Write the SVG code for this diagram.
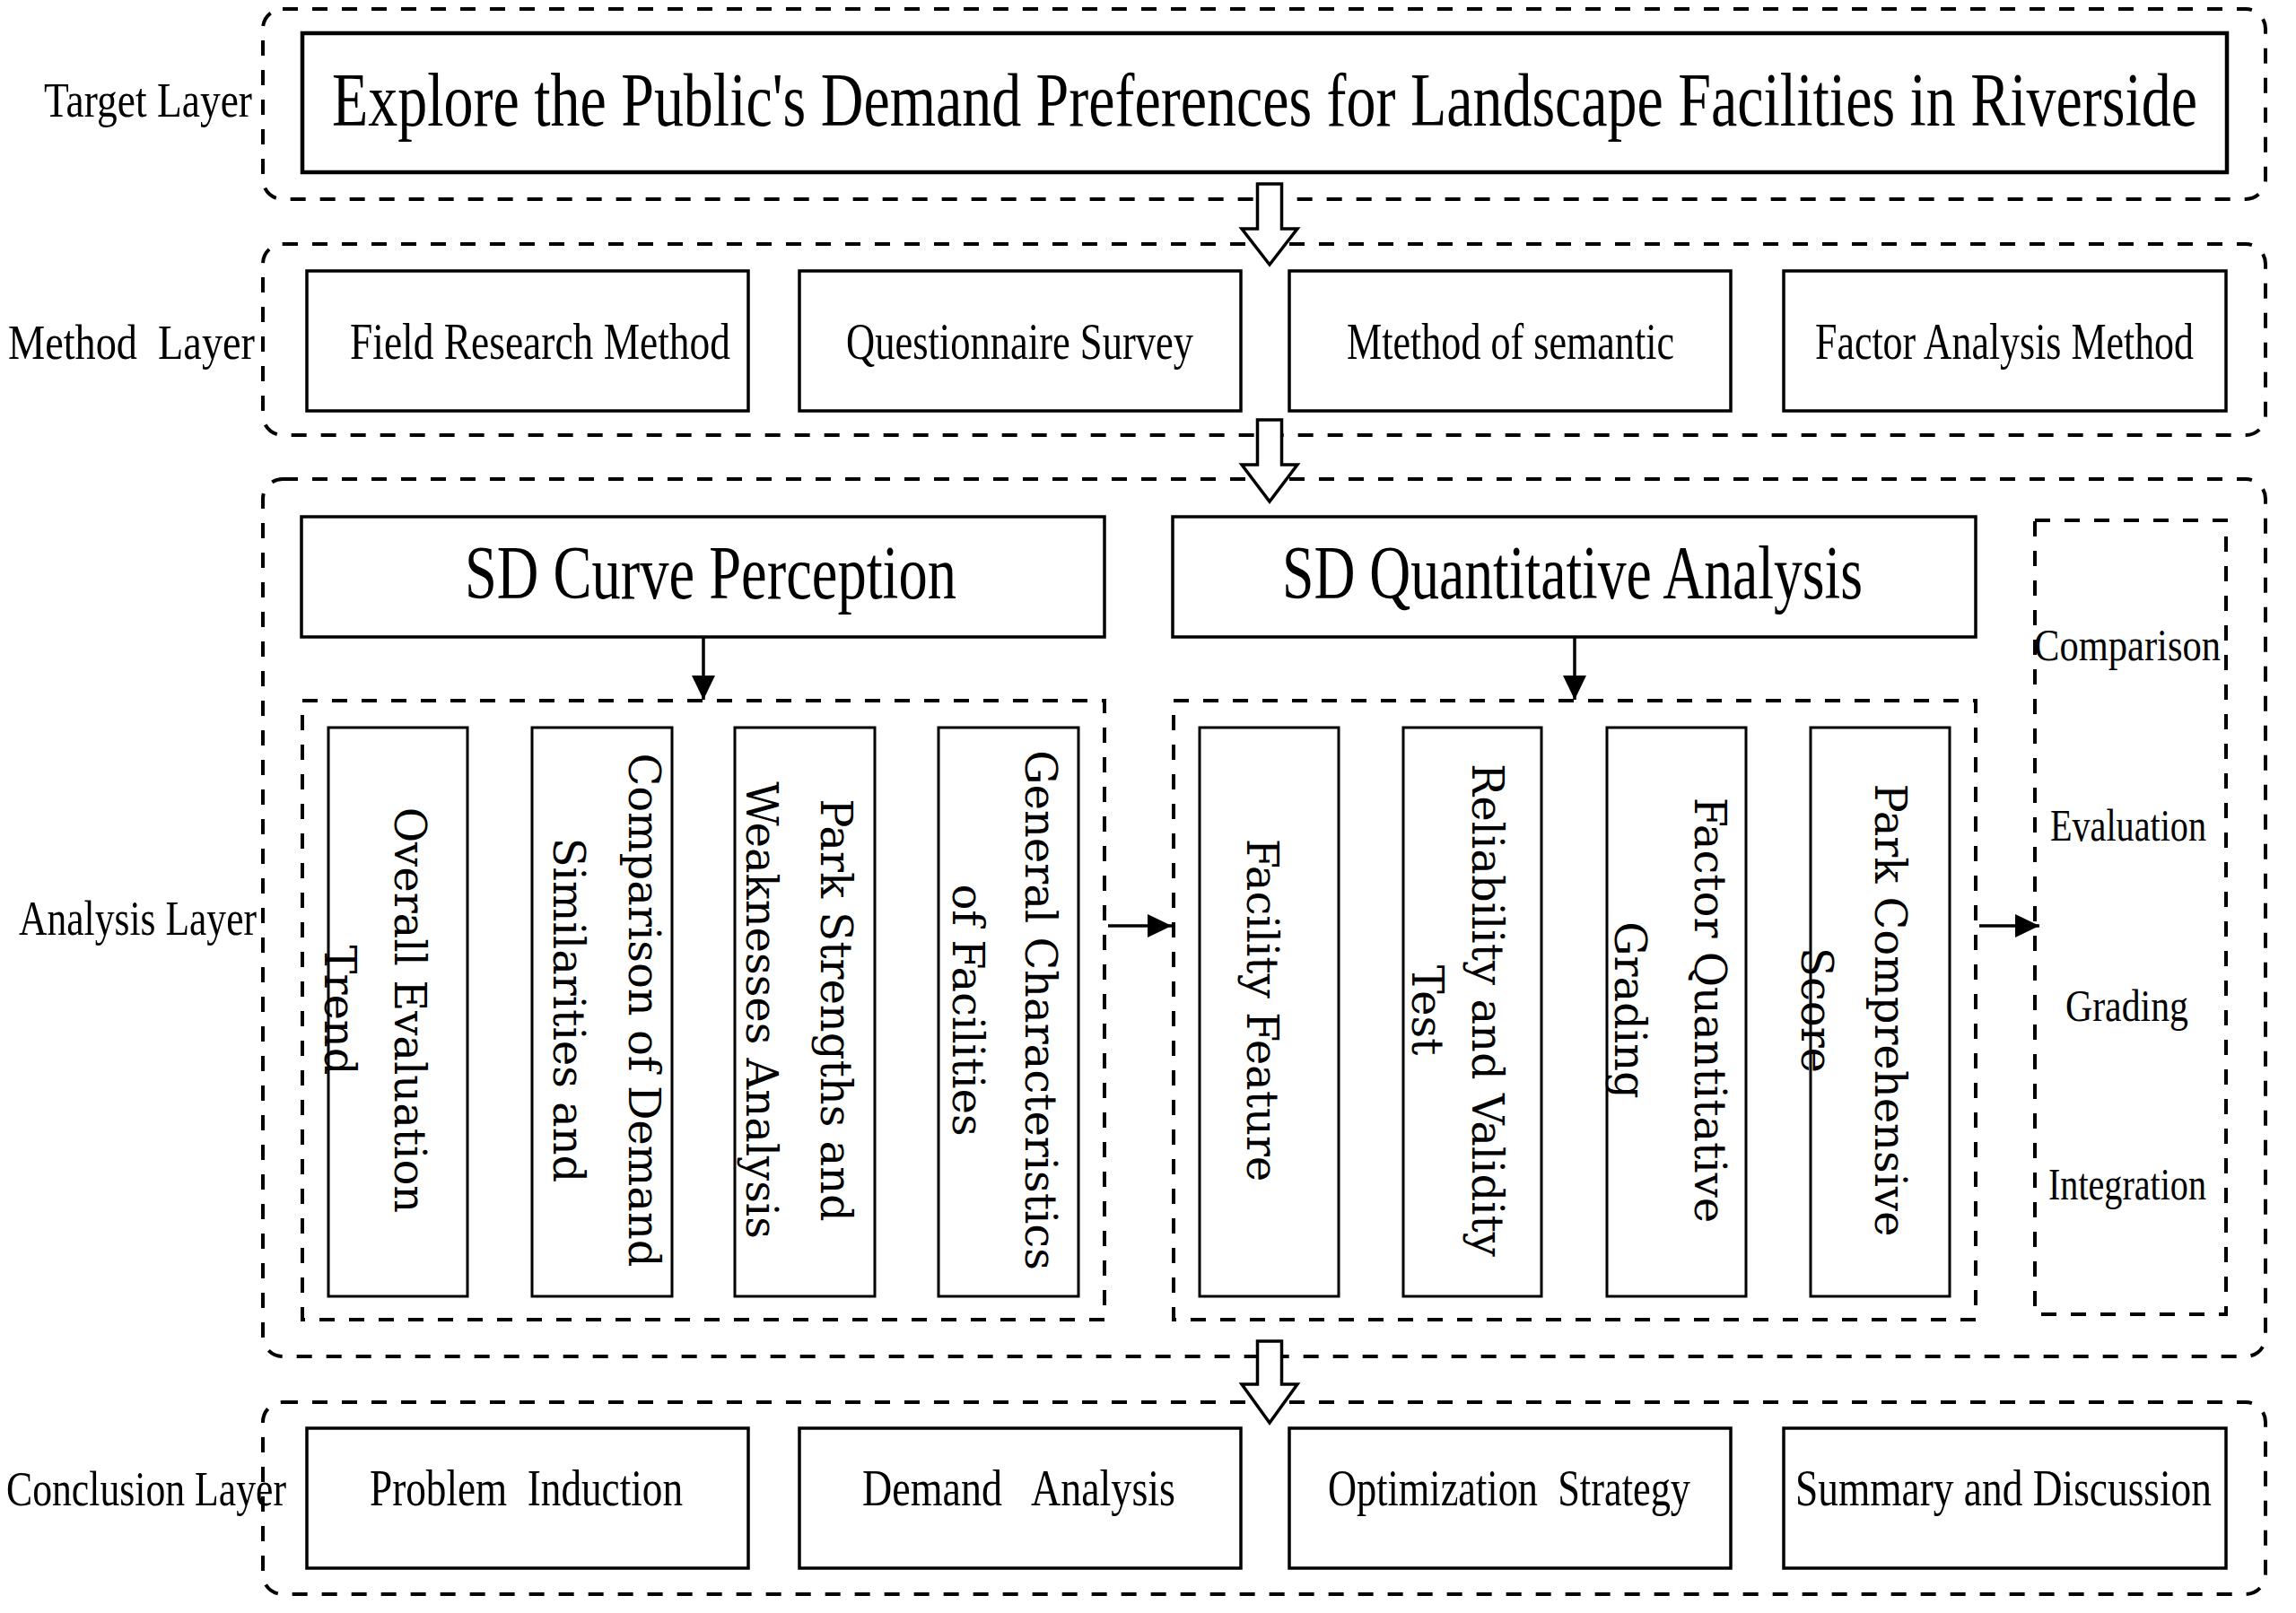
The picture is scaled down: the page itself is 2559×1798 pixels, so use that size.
<svg xmlns="http://www.w3.org/2000/svg" width="2559" height="1798" viewBox="0 0 2559 1798">
<defs>
<style>
.layer{fill:none;stroke:#000;stroke-width:4;stroke-dasharray:17 16}
.inner{fill:none;stroke:#000;stroke-width:4;stroke-dasharray:17 16}
.box{fill:#fff;stroke:#000;stroke-width:3.5}
.tbox{fill:#fff;stroke:#000;stroke-width:4.5}
.vbox{fill:#fff;stroke:#000;stroke-width:3}
.t{font-family:"Liberation Serif","Times New Roman",serif;fill:#000}
.v{font-family:"DejaVu Serif",serif;font-size:48px;fill:#000;text-anchor:middle}
.lbl{font-size:54px}
.m{font-size:56px}
.sd{font-size:84px}
.c{font-size:50px}
.conn{stroke:#000;stroke-width:3.5;fill:none}
.hollow{fill:#fff;stroke:#000;stroke-width:3.5;stroke-linejoin:miter}
</style>
<marker id="ah" markerUnits="userSpaceOnUse" markerWidth="27" markerHeight="26" refX="27" refY="13" orient="auto">
<path d="M0,0 L27,13 L0,26 z" fill="#000"/>
</marker>
</defs>
<rect width="2559" height="1798" fill="#fff"/>

<g id="layer-target">
<rect class="layer" x="293" y="10" width="2232" height="212" rx="22"/>
<text class="t lbl" x="49" y="130" textLength="232" lengthAdjust="spacingAndGlyphs">Target Layer</text>
</g>
<g id="layer-method">
<rect class="layer" x="293" y="272" width="2232" height="213" rx="22"/>
<text class="t lbl" x="9" y="400" textLength="275" lengthAdjust="spacingAndGlyphs" xml:space="preserve">Method  Layer</text>
</g>
<g id="layer-analysis">
<rect class="layer" x="293" y="534" width="2232" height="978" rx="22"/>
<text class="t lbl" x="21" y="1042" textLength="265" lengthAdjust="spacingAndGlyphs">Analysis Layer</text>
</g>
<g id="layer-conclusion">
<rect class="layer" x="293" y="1563" width="2232" height="214" rx="22"/>
<text class="t lbl" x="7" y="1678" textLength="312" lengthAdjust="spacingAndGlyphs">Conclusion Layer</text>
</g>

<g id="target">
<rect class="tbox" x="337" y="37" width="2145" height="155"/>
<text class="t" x="370" y="140" font-size="84" textLength="2079" lengthAdjust="spacingAndGlyphs">Explore the Public's Demand Preferences for Landscape Facilities in Riverside</text>
</g>

<g id="method-field">
<rect class="box" x="342" y="302" width="492" height="156"/>
<text class="t m" x="390" y="400" textLength="424" lengthAdjust="spacingAndGlyphs">Field Research Method</text>
</g>
<g id="method-questionnaire">
<rect class="box" x="891" y="302" width="492" height="156"/>
<text class="t m" x="943" y="400" textLength="387" lengthAdjust="spacingAndGlyphs">Questionnaire Survey</text>
</g>
<g id="method-semantic">
<rect class="box" x="1437" y="302" width="492" height="156"/>
<text class="t m" x="1501" y="400" textLength="365" lengthAdjust="spacingAndGlyphs">Mtethod of semantic</text>
</g>
<g id="method-factor">
<rect class="box" x="1988" y="302" width="493" height="156"/>
<text class="t m" x="2023" y="400" textLength="422" lengthAdjust="spacingAndGlyphs">Factor Analysis Method</text>
</g>

<g id="sd-curve">
<rect class="box" x="336" y="576" width="895" height="134"/>
<text class="t sd" x="518" y="667" textLength="548" lengthAdjust="spacingAndGlyphs">SD Curve Perception</text>
</g>
<g id="sd-quant">
<rect class="box" x="1307" y="576" width="895" height="134"/>
<text class="t sd" x="1429" y="667" textLength="647" lengthAdjust="spacingAndGlyphs">SD Quantitative Analysis</text>
</g>

<g id="group-curve">
<rect class="inner" x="337" y="781" width="894" height="690"/>
</g>
<g id="group-quant">
<rect class="inner" x="1308" y="781" width="894" height="690"/>
</g>

<g id="overall">
<rect class="vbox" x="366" y="811" width="155" height="634"/>
<text class="v" transform="translate(440,1126) rotate(90)">Overall Evaluation</text>
<text class="v" transform="translate(362,1126) rotate(90)">Trend</text>
</g>
<g id="comparison-demand">
<rect class="vbox" x="593" y="811" width="156" height="634"/>
<text class="v" transform="translate(701,1126) rotate(90)">Comparison of Demand</text>
<text class="v" transform="translate(617,1126) rotate(90)">Similarities and</text>
</g>
<g id="park-strengths">
<rect class="vbox" x="819" y="811" width="156" height="634"/>
<text class="v" transform="translate(915,1126) rotate(90)">Park Strengths and</text>
<text class="v" transform="translate(832,1126) rotate(90)">Weaknesses Analysis</text>
</g>
<g id="general-characteristics">
<rect class="vbox" x="1046" y="811" width="156" height="634"/>
<text class="v" transform="translate(1143,1126) rotate(90)">General Characteristics</text>
<text class="v" transform="translate(1062,1126) rotate(90)">of Facilities</text>
</g>
<g id="facility-feature">
<rect class="vbox" x="1337" y="811" width="155" height="634"/>
<text class="v" transform="translate(1390,1126) rotate(90)">Facility Feature</text>
</g>
<g id="reliability">
<rect class="vbox" x="1564" y="811" width="154" height="634"/>
<text class="v" transform="translate(1641,1126) rotate(90)">Reliability and Validity</text>
<text class="v" transform="translate(1574,1126) rotate(90)">Test</text>
</g>
<g id="factor-quant">
<rect class="vbox" x="1791" y="811" width="155" height="634"/>
<text class="v" transform="translate(1889,1126) rotate(90)">Factor Quantitative</text>
<text class="v" transform="translate(1800,1126) rotate(90)">Grading</text>
</g>
<g id="park-score">
<rect class="vbox" x="2018" y="811" width="155" height="634"/>
<text class="v" transform="translate(2090,1126) rotate(90)">Park Comprehensive</text>
<text class="v" transform="translate(2008,1126) rotate(90)">Score</text>
</g>

<g id="comparison-column">
<rect class="inner" x="2268" y="580" width="213" height="885"/>
<text class="t c" x="2267" y="736" textLength="208" lengthAdjust="spacingAndGlyphs">Comparison</text>
<text class="t c" x="2285" y="937" textLength="174" lengthAdjust="spacingAndGlyphs">Evaluation</text>
<text class="t c" x="2302" y="1138" textLength="137" lengthAdjust="spacingAndGlyphs">Grading</text>
<text class="t c" x="2283" y="1337" textLength="176" lengthAdjust="spacingAndGlyphs">Integration</text>
</g>

<g id="conclusion-problem">
<rect class="box" x="342" y="1592" width="492" height="156"/>
<text class="t m" x="412" y="1678" textLength="349" lengthAdjust="spacingAndGlyphs" xml:space="preserve">Problem  Induction</text>
</g>
<g id="conclusion-demand">
<rect class="box" x="891" y="1592" width="492" height="156"/>
<text class="t m" x="961" y="1678" textLength="349" lengthAdjust="spacingAndGlyphs" xml:space="preserve">Demand   Analysis</text>
</g>
<g id="conclusion-optimization">
<rect class="box" x="1437" y="1592" width="492" height="156"/>
<text class="t m" x="1480" y="1678" textLength="404" lengthAdjust="spacingAndGlyphs" xml:space="preserve">Optimization  Strategy</text>
</g>
<g id="conclusion-summary">
<rect class="box" x="1988" y="1592" width="493" height="156"/>
<text class="t m" x="2001" y="1678" textLength="464" lengthAdjust="spacingAndGlyphs">Summary and Discussion</text>
</g>

<g id="connectors">
<polygon class="hollow" points="1401.5,205 1428.5,205 1428.5,255 1446,255 1415,295 1384,255 1401.5,255"/>
<polygon class="hollow" points="1401.5,468 1428.5,468 1428.5,518 1446,518 1415,559 1384,518 1401.5,518"/>
<polygon class="hollow" points="1401.5,1495 1428.5,1495 1428.5,1543 1446,1543 1415,1586 1384,1543 1401.5,1543"/>
<line class="conn" x1="784" y1="710" x2="784" y2="780" marker-end="url(#ah)"/>
<line class="conn" x1="1755" y1="710" x2="1755" y2="780" marker-end="url(#ah)"/>
<line class="conn" x1="1235" y1="1032" x2="1306" y2="1032" marker-end="url(#ah)"/>
<line class="conn" x1="2206" y1="1032" x2="2273" y2="1032" marker-end="url(#ah)"/>
</g>
</svg>
